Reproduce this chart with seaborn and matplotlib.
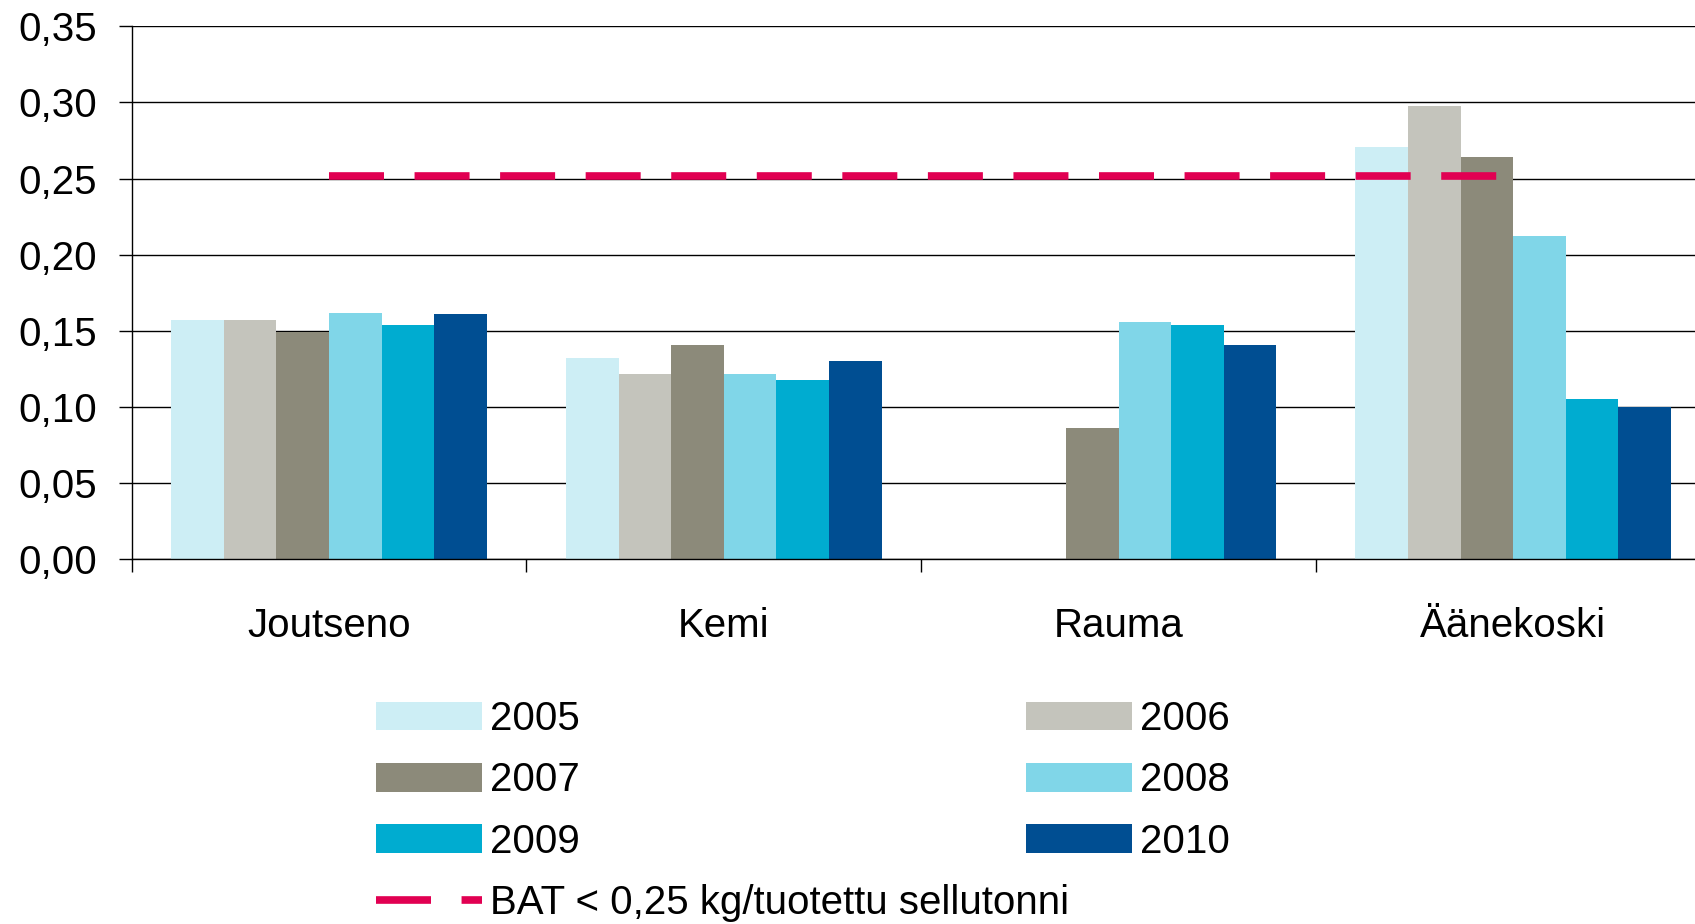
import numpy as np
import pandas as pd
import matplotlib
matplotlib.use("Agg")
import matplotlib.pyplot as plt
from matplotlib.patches import Patch
from matplotlib.lines import Line2D
import seaborn as sns

# ---- data ----
categories = ["Joutseno", "Kemi", "Rauma", "Äänekoski"]
years = ["2005", "2006", "2007", "2008", "2009", "2010"]
v2005 = [0.157, 0.132, np.nan, 0.271]
v2006 = [0.157, 0.122, np.nan, 0.298]
v2007 = [0.149, 0.141, 0.086, 0.264]
v2008 = [0.162, 0.122, 0.156, 0.212]
v2009 = [0.154, 0.118, 0.154, 0.105]
v2010 = [0.161, 0.130, 0.141, 0.100]
bat_values = [0.252, 0.252, 0.252, 0.252]
bat_label = "BAT < 0,25 kg/tuotettu sellutonni"
y_ticks = [0.00, 0.05, 0.10, 0.15, 0.20, 0.25, 0.30, 0.35]

colors = {"2005": "#CDEEF5", "2006": "#C4C4BC", "2007": "#8C8A7A",
          "2008": "#80D6E8", "2009": "#00ACD0", "2010": "#004E92"}
bat_color = "#E10052"

series = [v2005, v2006, v2007, v2008, v2009, v2010]
rows = []
for y, vals in zip(years, series):
    for c, v in zip(categories, vals):
        rows.append({"site": c, "year": y, "value": v})
df = pd.DataFrame(rows).dropna()

sns.set_style("white")
plt.rcParams["font.family"] = ["Liberation Sans", "DejaVu Sans"]
plt.rcParams["text.color"] = "black"
plt.rcParams["xtick.color"] = "black"
plt.rcParams["ytick.color"] = "black"
plt.rcParams["xtick.labelcolor"] = "black"
plt.rcParams["ytick.labelcolor"] = "black"

fig = plt.figure(figsize=(16.95, 9.24), dpi=100)
ax = fig.add_axes([0.0777, 0.3947, 1.0092 - 0.0777, 0.9715 - 0.3947])

sns.barplot(data=df, x="site", y="value", hue="year", order=categories,
            hue_order=years, palette=colors, width=0.8, saturation=1,
            legend=False, ax=ax, zorder=2)
for p in ax.patches:
    p.set_edgecolor("none")
    p.set_linewidth(0)

dash = (7.2, 4.0)
ax.plot(range(len(categories)), bat_values, color=bat_color, lw=5.5,
        dashes=dash, zorder=3, solid_capstyle="butt", dash_capstyle="butt")

ax.set_xlim(-0.5, 3.5)
ax.set_ylim(0, 0.35)
ax.set_yticks(y_ticks)
ax.set_yticklabels([f"{t:.2f}".replace(".", ",") for t in y_ticks])
ax.yaxis.grid(True, color="black", linewidth=1.0)
ax.xaxis.grid(False)
ax.set_axisbelow(True)
ax.set_xlabel("")
ax.set_ylabel("")

for s in ["top", "right"]:
    ax.spines[s].set_visible(False)
for s in ["left", "bottom"]:
    ax.spines[s].set_visible(True)
    ax.spines[s].set_color("black")
    ax.spines[s].set_linewidth(1.0)

ax.set_xticks([-0.5, 0.5, 1.5, 2.5, 3.5])
ax.set_xticklabels([""] * 5)
ax.set_xticks(range(len(categories)), minor=True)
ax.set_xticklabels(categories, minor=True)
ax.tick_params(axis="y", which="major", length=9.4, width=1.0, pad=15.8,
               labelsize=29, direction="out", color="black", left=True,
               labelcolor="black")
ax.tick_params(axis="x", which="major", length=9.4, width=1.0,
               direction="out", color="black", bottom=True)
ax.tick_params(axis="x", which="minor", length=0, pad=34, labelsize=29,
               labelcolor="black")

fs = 29
legA_handles = [Patch(facecolor=colors["2005"], edgecolor="none"),
                Patch(facecolor=colors["2007"], edgecolor="none"),
                Patch(facecolor=colors["2009"], edgecolor="none"),
                Line2D([], [], color=bat_color, lw=5.5, dashes=dash)]
legA_labels = ["2005", "2007", "2009", bat_label]
legB_handles = [Patch(facecolor=colors["2006"], edgecolor="none"),
                Patch(facecolor=colors["2008"], edgecolor="none"),
                Patch(facecolor=colors["2010"], edgecolor="none")]
legB_labels = ["2006", "2008", "2010"]

common = dict(loc="upper left", frameon=False, fontsize=fs, borderpad=0,
              borderaxespad=0, handlelength=2.63, handleheight=0.71,
              handletextpad=0.2, labelspacing=0.58,
              bbox_transform=fig.transFigure, labelcolor="black")
legA = fig.legend(legA_handles, legA_labels,
                  bbox_to_anchor=(376 / 1695, 1 - 700 / 924), **common)
legB = fig.legend(legB_handles, legB_labels,
                  bbox_to_anchor=(1026 / 1695, 1 - 700 / 924), **common)

fig.savefig("out.png", dpi=100)
